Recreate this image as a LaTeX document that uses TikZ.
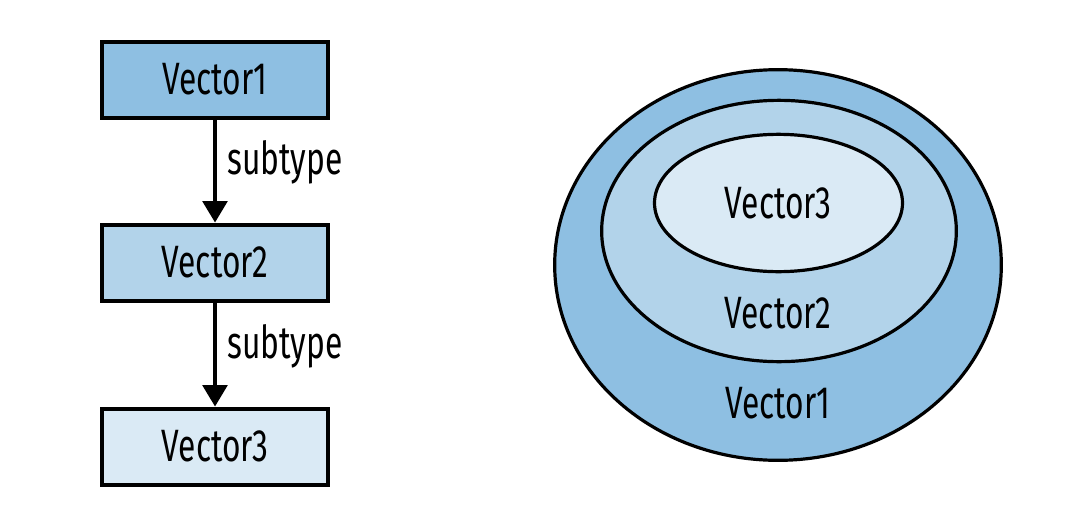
\documentclass[tikz,border=0pt]{standalone}
\usepackage{fontspec}
\setmainfont{Fira Sans}[FakeStretch=0.7]
\usetikzlibrary{arrows.meta,shapes.geometric}
\definecolor{blueA}{HTML}{8EBFE2}
\definecolor{blueB}{HTML}{B2D3EA}
\definecolor{blueC}{HTML}{DAEAF5}
\begin{document}
\begin{tikzpicture}[x=0.75pt,y=-0.75pt,
  every node/.style={font=\fontsize{34pt}{40pt}\selectfont},
  typebox/.style={draw=black, line width=3pt, minimum width=169.5pt, minimum height=57pt, inner sep=0pt},
  subarrow/.style={line width=2.4pt, -{Triangle[width=18.5pt,length=16pt]}},
  ring/.style={draw=black, line width=2.4pt, ellipse, inner sep=0pt},
  lbl/.style={inner sep=0pt, anchor=west, xshift=8pt, yshift=6.5pt}
]
\useasboundingbox (0,0) rectangle (1078,514);
% left: boxes
\node[typebox, fill=blueA] (v1) at (215,79.5) {Vector1};
\node[typebox, fill=blueB] (v2) at (215,262.5) {Vector2};
\node[typebox, fill=blueC] (v3) at (215,446.5) {Vector3};
\draw[subarrow] (v1.south) -- node[lbl] (s1) {subtype} (v2.north);
\draw[subarrow] (v2.south) -- node[lbl] (s2) {subtype} (v3.north);
% right: nested ellipses
\node[ring, fill=blueA, minimum width=335pt, minimum height=293pt] (e1) at (778,265) {};
\node[ring, fill=blueB, minimum width=266pt, minimum height=196pt] (e2) at (779,231) {};
\node[ring, fill=blueC, minimum width=186pt, minimum height=103pt] (e3) at (778.5,203) {};
\node (t3) at (778,203) {Vector3};
\node (t2) at (778,313) {Vector2};
\node (t1) at (778,403) {Vector1};
\end{tikzpicture}
\end{document}
